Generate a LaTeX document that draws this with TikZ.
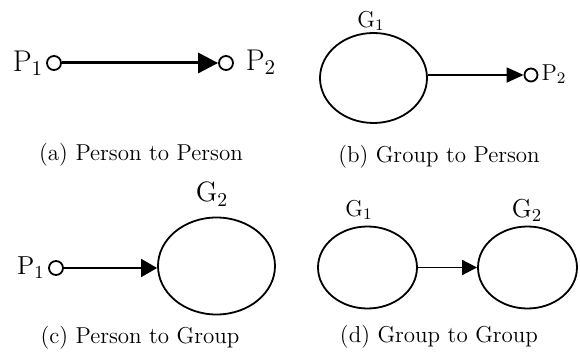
\documentclass[tikz,border=0pt]{standalone}
\usepackage{tikz}
\usetikzlibrary{arrows.meta,positioning,shapes.geometric}
\newcommand{\lblsize}[1]{\rmfamily\fontsize{#1}{#1}\selectfont}

\begin{document}
\begin{tikzpicture}[x=0.5pt,y=-0.5pt,
  person/.style={draw,circle,line width=0.9pt,minimum size=7pt,inner sep=0pt},
  group/.style={draw,ellipse,line width=0.9pt,inner sep=0pt},
  lbl/.style={inner sep=0pt},
  subcap/.style={font=\fontsize{11.5}{13}\selectfont,inner sep=0pt},
  link/.style={-{Triangle[length=8pt,width=8pt]},line width=0.9pt}]
  \useasboundingbox (0,0) rectangle (580,363);

  % (a) person to person
  \node[person] (pa1) at (54,63) {};
  \node[person] (pa2) at (226,63) {};
  \node[lbl,font=\lblsize{15}] (la1) at (28,63) {P\textsubscript{1}};
  \node[lbl,font=\lblsize{15}] (la2) at (261,62) {P\textsubscript{2}};
  \draw[link,line width=1.5pt,-{Triangle[length=10pt,width=10pt]}] (pa1) -- (pa2);
  \node[subcap] (capa) at (141,155) {(a) Person to Person};

  % (b) group to person
  \node[group,minimum width=53.5pt,minimum height=45pt] (gb1) at (373.5,78) {};
  \node[person,minimum size=6.5pt] (pb2) at (531,75) {};
  \node[lbl,font=\lblsize{11.5}] (lb1) at (371,21) {G\textsubscript{1}};
  \node[lbl,font=\lblsize{11.5}] (lb2) at (554,74) {P\textsubscript{2}};
  \draw[link,-{Triangle[length=8.5pt,width=7.5pt]}] (gb1.east|-pb2) -- (pb2);
  \node[subcap] (capb) at (439,157) {(b) Group to Person};

  % (c) person to group
  \node[group,minimum width=58.5pt,minimum height=48.5pt] (gc2) at (216.5,266) {};
  \node[person] (pc1) at (56,268) {};
  \node[lbl,font=\lblsize{14}] (lc2) at (212,194) {G\textsubscript{2}};
  \node[lbl,font=\lblsize{13}] (lc1) at (31,268) {P\textsubscript{1}};
  \draw[link,-{Triangle[length=8pt,width=9pt]}] (pc1) -- (gc2.west|-pc1);
  \node[subcap] (capc) at (140,338) {(c) Person to Group};

  % (d) group to group
  \node[group,minimum width=49.5pt,minimum height=41pt] (gd1) at (367.5,267.5) {};
  \node[group,minimum width=49.5pt,minimum height=41pt] (gd2) at (527.5,267.5) {};
  \node[lbl,font=\lblsize{11.5}] (ld1) at (359,210) {G\textsubscript{1}};
  \node[lbl,font=\lblsize{13}] (ld2) at (527,210) {G\textsubscript{2}};
  \draw[link,-{Triangle[length=7.5pt,width=7.5pt]}] (gd1.east) -- (gd2.west);
  \node[subcap] (capd) at (439,337) {(d) Group to Group};
\end{tikzpicture}
\end{document}
